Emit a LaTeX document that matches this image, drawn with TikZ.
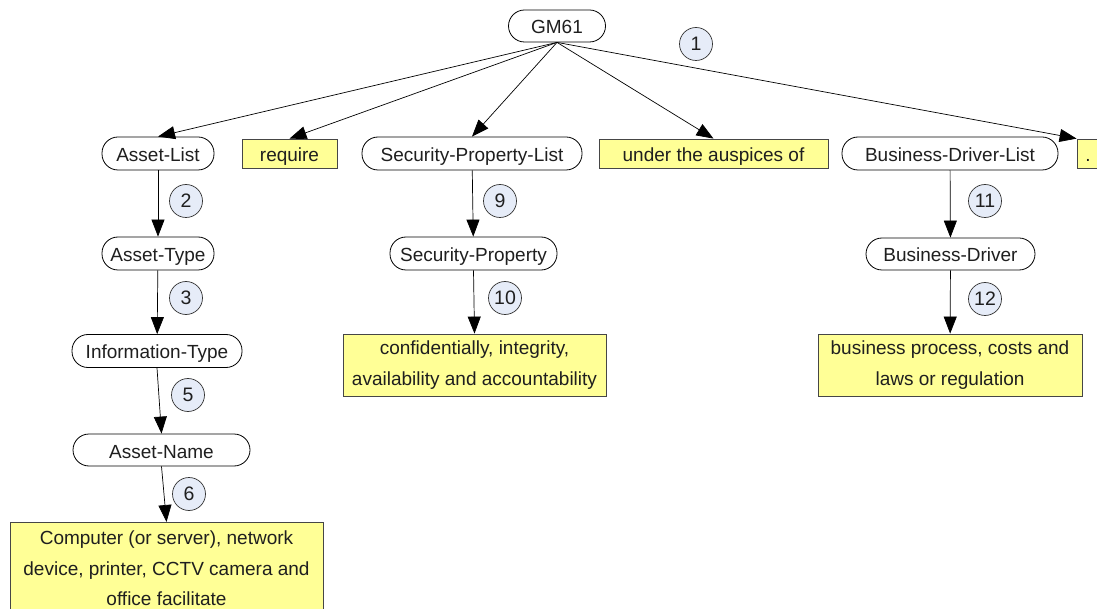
\documentclass[tikz,border=0pt]{standalone}
\usepackage{fontspec}
\setmainfont{Liberation Sans}
\usetikzlibrary{arrows.meta}
\definecolor{notefill}{RGB}{255,255,150}
\definecolor{noteline}{RGB}{70,70,70}
\definecolor{tagfill}{RGB}{230,236,248}
\begin{document}
\begin{tikzpicture}[x=1pt,y=-1pt,
  every node/.style={font=\fontsize{19}{22}\selectfont, inner sep=0pt, text=black!88},
  oneline/.style={text height=16pt, text depth=0pt},
  term/.style={oneline, draw=black, line width=0.8pt, rounded corners=16pt, minimum height=33pt, fill=white},
  note/.style={draw=noteline, line width=0.8pt, fill=notefill, minimum height=29pt},
  smallnote/.style={note, oneline},
  bignote/.style={note, align=center, font=\fontsize{19}{30.5}\selectfont},
  tag/.style={circle, draw=black!80, line width=0.7pt, fill=tagfill, minimum size=33pt, font=\fontsize{19.5}{21}\selectfont},
  link/.style={draw=black, line width=0.7pt, -{Triangle[length=17pt,width=13pt]}}]
\useasboundingbox (0,0) rectangle (1097,609);

% root and first level
\node[term, minimum width=97pt, minimum height=32pt] (gm) at (557,26) {GM61};
\node[term, minimum width=112pt] (alist) at (158,153.5) {Asset-List};
\node[smallnote, minimum width=95pt] (req) at (289.5,153.5) {require};
\node[term, minimum width=220pt] (splist) at (472,153.5) {Security-Property-List};
\node[smallnote, minimum width=229pt] (ausp) at (713.5,153.5) {under the auspices of};
\node[term, minimum width=216pt] (bdlist) at (950,153.5) {Business-Driver-List};
\node[smallnote, minimum width=22pt] (dot) at (1088,153.5) {.};

% asset branch
\node[term, minimum width=112pt] (atype) at (158,253.5) {Asset-Type};
\node[term, minimum width=170pt] (itype) at (157,351) {Information-Type};
\node[term, minimum width=177pt, minimum height=32pt] (aname) at (161.5,450) {Asset-Name};
\node[bignote, minimum width=313pt, minimum height=92pt, anchor=north] (assets) at (166.5,522)
  {Computer (or server), network\\device, printer, CCTV camera and\\office facilitate};

% security branch
\node[term, minimum width=167pt] (sprop) at (473.5,253.5) {Security-Property};
\node[bignote, minimum width=263pt, minimum height=62pt] (cia) at (474.5,365)
  {confidentially, integrity,\\availability and accountability};

% business branch
\node[term, minimum width=169pt, minimum height=32pt] (bdrv) at (950.5,254) {Business-Driver};
\node[bignote, minimum width=264pt, minimum height=62pt] (bproc) at (950,365)
  {business process, costs and\\laws or regulation};

% numbered tags
\node[tag] (t1) at (696,44) {1};
\node[tag] (t2) at (186,201) {2};
\node[tag] (t3) at (186,298) {3};
\node[tag] (t5) at (188,395) {5};
\node[tag] (t6) at (189,494) {6};
\node[tag] (t9) at (500,201) {9};
\node[tag] (t10) at (505,298) {10};
\node[tag] (t11) at (985,201) {11};
\node[tag] (t12) at (985,299) {12};

% connectors
\draw[link] (gm.south) -- (alist.north);
\draw[link] (gm.south) -- (req.north);
\draw[link] (gm.south) -- (splist.north);
\draw[link] (gm.south) -- (ausp.north);
\draw[link] (gm.south) -- (dot.north west);
\draw[link] (alist) -- (atype);
\draw[link] (atype) -- (itype);
\draw[link] (itype.south) -- (aname.north);
\draw[link] (aname.south) -- (assets.north);
\draw[link] (splist) -- (sprop);
\draw[link] (sprop.south) -- (cia.north);
\draw[link] (bdlist) -- (bdrv);
\draw[link] (bdrv) -- (bproc);
\end{tikzpicture}
\end{document}
